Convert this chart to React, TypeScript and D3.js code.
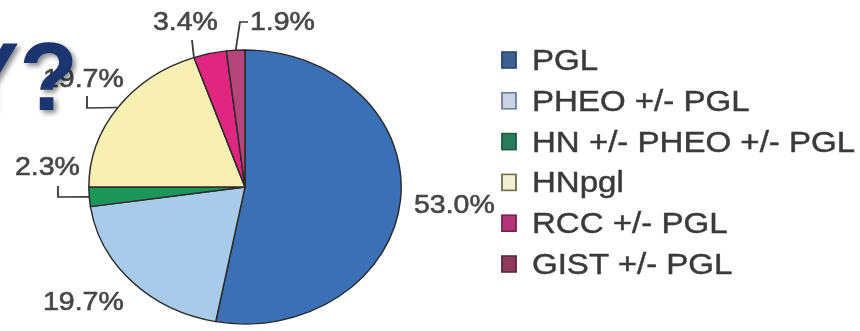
import React from "react";
import * as d3 from "d3";

const categories = ["PGL", "PHEO +/- PGL", "HN +/- PHEO +/- PGL", "HNpgl", "RCC +/- PGL", "GIST +/- PGL"];
const values = [53.0, 19.7, 2.3, 19.7, 3.4, 1.9];
const valueLabels = ["53.0%", "19.7%", "2.3%", "19.7%", "3.4%", "1.9%"];
const sliceColors = ["#3a6fb7", "#a9cbea", "#1d9658", "#f8f0b2", "#e0257f", "#b6457a"];
const legendColors = ["#3c5f92", "#c9d3e3", "#2b7d5c", "#f2efd6", "#b23474", "#8e3a5c"];
const legendStrokes = ["#2c466c", "#6f7fa0", "#1f5a42", "#6f6e4c", "#7a2250", "#5e2640"];

const W = 860;
const H = 331;
const SX = 1.14; // horizontal stretch of the picture
const CX = 245;
const CY = 187;
const R = 137;

// label layout (actual pixel coords: start x, baseline y)
const labelPos: [number, number][] = [
  [414, 213],
  [43, 310],
  [15, 175],
  [43, 87],
  [153, 30],
  [250, 30],
];
// leader elbows (actual coords) and which angle of the slice they attach to (0 start, 0.5 mid)
const leaderElbows: ([number, number][] | null)[] = [
  null,
  null,
  [[58, 186], [58, 197]],
  [[87, 96], [87, 108]],
  [[192, 40]],
  [[248, 22], [240, 22]],
];
const leaderAttach = [0.5, 0.5, 0.5, 0.5, 0, 0.5];

const legendX = 502;
const legendY0 = 60;
const legendStep = 40.8;

export default function App() {
  const pie = d3.pie<number>().sort(null).value((d) => d);
  const arcs = pie(values);
  const arc = d3.arc<d3.PieArcDatum<number>>().innerRadius(0).outerRadius(R);
  const cxi = CX / SX;

  const attach = (i: number): [number, number] => {
    const a = arcs[i];
    const ang = a.startAngle + (a.endAngle - a.startAngle) * leaderAttach[i];
    return [cxi + Math.sin(ang) * R, CY - Math.cos(ang) * R];
  };

  const line = d3.line<[number, number]>();

  const textStyle: React.CSSProperties = {
    fontFamily: "'Liberation Sans', Arial, sans-serif",
  };

  return (
    <svg
      width={W}
      height={H}
      style={{ position: "absolute", left: 0, top: 0, background: "#fff" }}
    >
      <defs>
        <filter id="shadow" x="-20%" y="-20%" width="150%" height="150%">
          <feDropShadow dx="3" dy="3" stdDeviation="2.5" floodColor="#000" floodOpacity="0.45" />
        </filter>
        <filter id="blur" x="-5%" y="-5%" width="110%" height="110%">
          <feGaussianBlur stdDeviation="0.45" />
        </filter>
      </defs>
      <g transform={`scale(${SX},1)`} filter="url(#blur)">
        <g transform={`translate(${cxi},${CY})`}>
          {arcs.map((a, i) => (
            <path
              key={i}
              d={arc(a) || ""}
              fill={sliceColors[i]}
              stroke="#2b2b2b"
              strokeWidth={1.3}
              strokeLinejoin="round"
            />
          ))}
        </g>
        {leaderElbows.map((pts, i) =>
          pts ? (
            <path
              key={i}
              d={line([...pts.map(([x, y]) => [x / SX, y] as [number, number]), attach(i)]) || ""}
              fill="none"
              stroke="#3a3a3a"
              strokeWidth={1.6}
            />
          ) : null
        )}
        {valueLabels.map((t, i) => (
          <text
            key={i}
            x={labelPos[i][0] / SX}
            y={labelPos[i][1]}
            fontSize={25}
            fill="#474747"
            stroke="#474747"
            strokeWidth={0.6}
            style={textStyle}
          >
            {t}
          </text>
        ))}
        {categories.map((c, i) => {
          const y = legendY0 + i * legendStep;
          return (
            <g key={c}>
              <rect
                x={legendX / SX}
                y={y - 8}
                width={14 / SX}
                height={16}
                fill={legendColors[i]}
                stroke={legendStrokes[i]}
                strokeWidth={1.6}
              />
              <text
                x={(legendX + 30) / SX}
                y={y + 10}
                fontSize={29}
                fill="#3a3a3a"
                stroke="#3a3a3a"
                strokeWidth={0.45}
                style={textStyle}
              >
                {c}
              </text>
            </g>
          );
        })}
      </g>
      <text
        x={78}
        y={110}
        textAnchor="end"
        fontSize={96}
        fontWeight="bold"
        fill="#1f3470"
        filter="url(#shadow)"
        style={textStyle}
      >
        Y?
      </text>
    </svg>
  );
}
